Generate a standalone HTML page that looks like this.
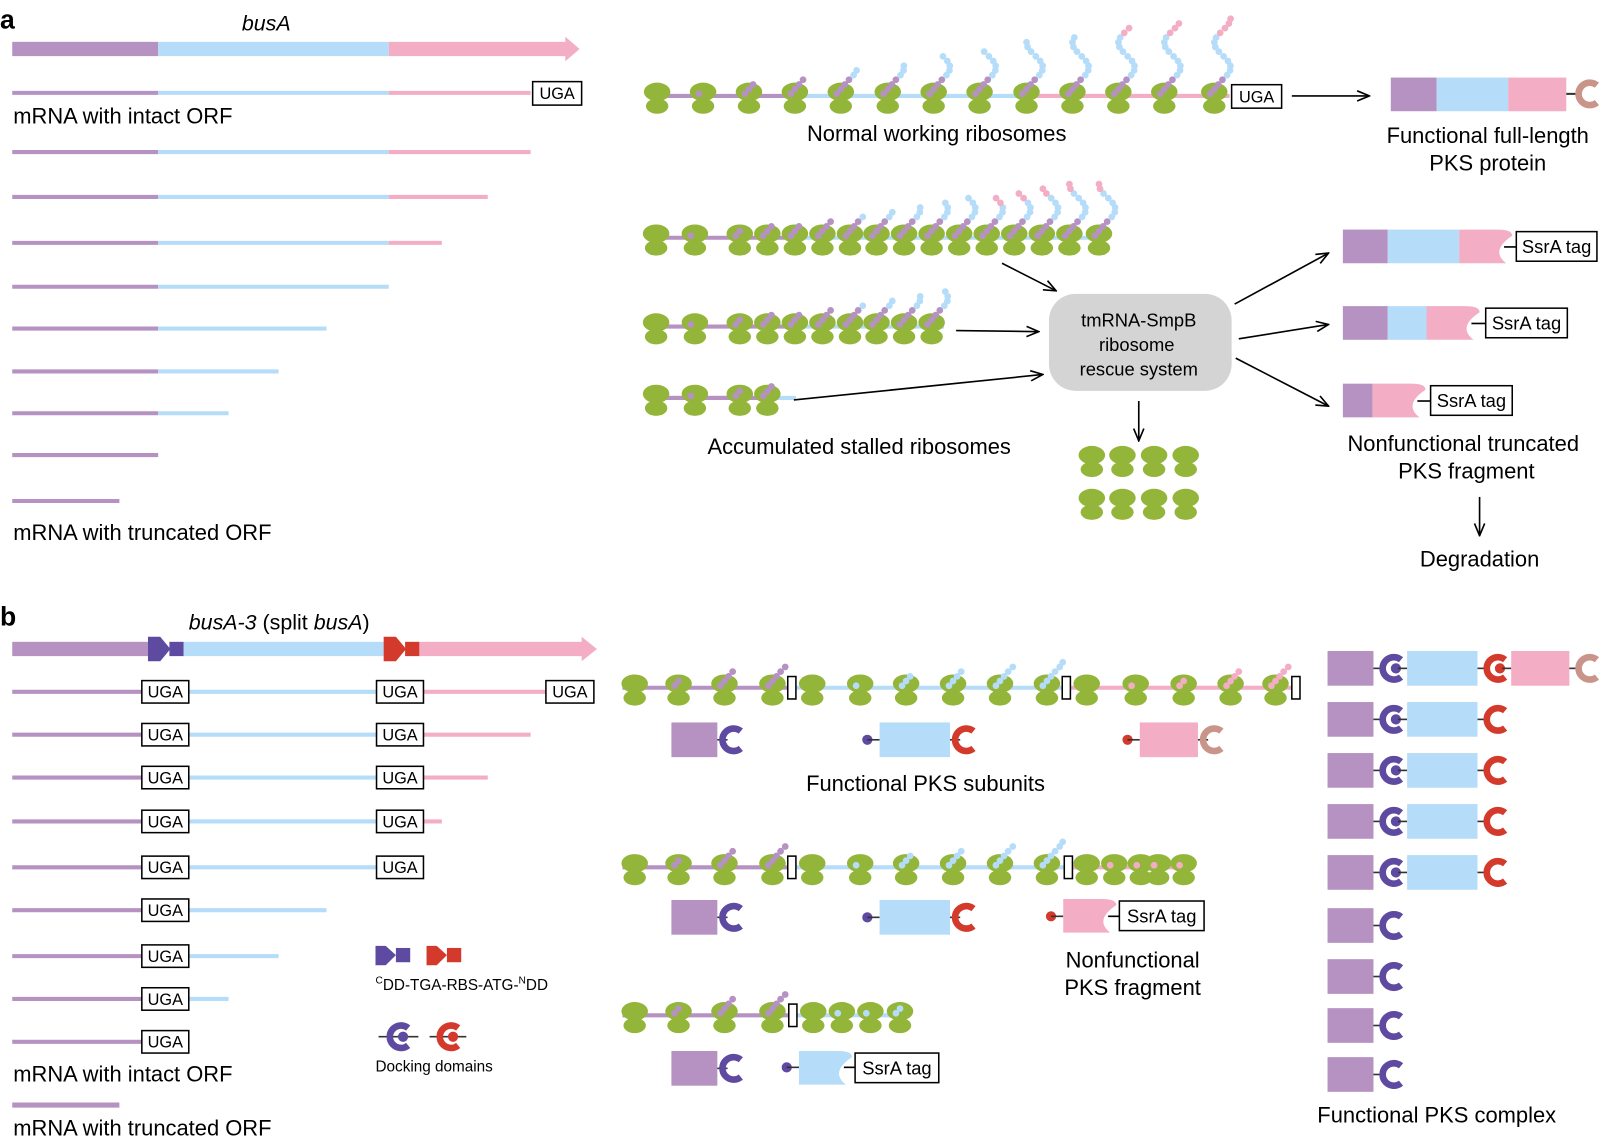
<!DOCTYPE html>
<html><head><meta charset="utf-8"><style>
html,body{margin:0;padding:0;background:#fff}
svg{display:block}
text{font-family:"Liberation Sans",Arial,sans-serif;fill:#000}
</style></head><body>
<svg id="s" width="1600" height="1144" viewBox="0 0 1600 1144" xmlns="http://www.w3.org/2000/svg">
<defs><marker id="ar" markerWidth="14" markerHeight="12" refX="13" refY="6" orient="auto" markerUnits="userSpaceOnUse"><path d="M1,1 L13,6 L1,11" fill="none" stroke="#000" stroke-width="1.6"/></marker></defs>
<g transform="scale(1.0204)">
<g id="g"></g>
<text x="0" y="28" font-size="26" font-weight="bold">a</text>
<text x="237" y="30" font-size="21" font-style="italic">busA</text>
<text x="13" y="121" font-size="21.5">mRNA with intact ORF</text>
<text x="13" y="529" font-size="21.5">mRNA with truncated ORF</text>
<text x="918" y="138" font-size="21.5" text-anchor="middle">Normal working ribosomes</text>
<text x="1458" y="140" font-size="21.5" text-anchor="middle">Functional full-length</text>
<text x="1458" y="167" font-size="21.5" text-anchor="middle">PKS protein</text>
<text x="842" y="445" font-size="21.5" text-anchor="middle">Accumulated stalled ribosomes</text>
<text x="1116" y="320" font-size="18" text-anchor="middle">tmRNA-SmpB</text>
<text x="1114" y="344" font-size="18" text-anchor="middle">ribosome</text>
<text x="1116" y="368" font-size="18" text-anchor="middle">rescue system</text>
<text x="1434" y="442" font-size="21.5" text-anchor="middle">Nonfunctional truncated</text>
<text x="1437" y="469" font-size="21.5" text-anchor="middle">PKS fragment</text>
<text x="1450" y="555" font-size="21.5" text-anchor="middle">Degradation</text>
<text x="0" y="613" font-size="26" font-weight="bold">b</text>
<text x="185" y="617" font-size="21"><tspan font-style="italic">busA-3</tspan> (split <tspan font-style="italic">busA</tspan>)</text>
<text x="13" y="1060" font-size="21.5">mRNA with intact ORF</text>
<text x="13" y="1113" font-size="21.5">mRNA with truncated ORF</text>
<text x="368" y="970" font-size="15"><tspan font-size="10" dy="-6">C</tspan><tspan dy="6">DD-TGA-RBS-ATG-</tspan><tspan font-size="10" dy="-6">N</tspan><tspan dy="6">DD</tspan></text>
<text x="368" y="1050" font-size="15">Docking domains</text>
<text x="907" y="775" font-size="21.5" text-anchor="middle">Functional PKS subunits</text>
<text x="1110" y="948" font-size="21.5" text-anchor="middle">Nonfunctional</text>
<text x="1110" y="975" font-size="21.5" text-anchor="middle">PKS fragment</text>
<text x="1408" y="1100" font-size="21.5" text-anchor="middle">Functional PKS complex</text>
</g>
</svg>
<script>
var P='#b592c2',B='#b5dcf8',K='#f3adc4',G='#93b53a',DP='#5e4aa0',R='#d43a2c',BR='#c9958a';
var g=document.getElementById('g'),h='';
function rect(x,y,w,hh,f,st){h+='<rect x="'+x+'" y="'+y+'" width="'+w+'" height="'+hh+'" fill="'+f+'"'+(st?' stroke="#000" stroke-width="1.5"':'')+'/>';}
function line(x1,y1,x2,y2,c,w,m){h+='<line x1="'+x1+'" y1="'+y1+'" x2="'+x2+'" y2="'+y2+'" stroke="'+c+'" stroke-width="'+w+'"'+(m?' marker-end="url(#ar)"':'')+'/>';}
function circ(x,y,r,f){h+='<circle cx="'+x+'" cy="'+y+'" r="'+r+'" fill="'+f+'"/>';}
function box(x,y,w,hh,txt,fs){rect(x,y,w,hh,'#fff',1);h+='<text x="'+(x+w/2)+'" y="'+(y+hh/2+fs*0.36)+'" font-size="'+fs+'" text-anchor="middle">'+txt+'</text>';}
function ribo(x,y){h+='<ellipse cx="'+x+'" cy="'+(y-4)+'" rx="13" ry="9" fill="'+G+'"/><ellipse cx="'+x+'" cy="'+(y+10)+'" rx="11" ry="7.5" fill="'+G+'"/>';}
function chain(x,y,cols){for(var i=0;i<cols.length;i++){var dx=i<3?-4+i*4:(8*Math.sin((i-3)*0.6)+8),dy=-2-i*4.6;circ(x+dx,y+dy,3.3,cols[i]);}}
function seq(n,np,nb,nk){var a=[];for(var i=0;i<n;i++)a.push(i<np?P:(i<np+nb?B:K));return a;}
function mrna(segs,y){segs.forEach(function(s){line(s[0],y,s[1],y,s[2],4);});}
function arrowbar(y,segs,tip){segs.forEach(function(s){rect(s[0],y-7,s[1]-s[0],14,s[2]);});h+='<polygon points="'+(tip-14)+','+(y-12)+' '+tip+','+y+' '+(tip-14)+','+(y+12)+'" fill="'+K+'"/>';}
function cshape(x,y,c,dot){h+='<path d="M'+(x+7)+','+(y-8.5)+' A11,11 0 1 0 '+(x+7)+','+(y+8.5)+'" fill="none" stroke="'+c+'" stroke-width="6.5"/>';if(dot)circ(x+2,y,5,c);}
function notch(x0,xe,y0,y1,f){var m=(y0+y1)/2;h+='<path d="M'+x0+','+y0+' L'+(xe-14)+','+y0+' Q'+xe+','+y0+' '+xe+','+(y0+6)+' Q'+(xe-22)+','+(m+4)+' '+(xe-6)+','+y1+' L'+x0+','+y1+' Z" fill="'+f+'"/>';}
arrowbar(48,[[12,155,P],[155,381,B],[381,556,K]],568);
var ys=[91,149,193,238,281,322,364,405,446,491],ends=[520,520,478,433,381,320,273,224,155,117];
ys.forEach(function(y,i){var e=ends[i];var s=[[12,Math.min(e,155),P]];if(e>155)s.push([155,Math.min(e,381),B]);if(e>381)s.push([381,e,K]);mrna(s,y);});
mrna([[640,780,P],[780,1010,B],[1010,1205,K]],94);
var xs=[644,689,734,779,824,870,915,960,1006,1051,1096,1141,1190];
xs.forEach(function(x,j){ribo(x,94);});
xs.forEach(function(x,j){var n=Math.min(Math.round(j*1.45),17);var np=Math.min(n,4),nb=Math.max(0,Math.min(n-4,j<9?20:10)),nk=0;if(j>=9){nb=Math.min(n-4,9);nk=n-4-nb;}chain(x,94,seq(n,np,nb,nk));});
line(1266,94,1342,94,'#000',1.6,1);
rect(1363,76,45,33,P);rect(1408,76,70,33,B);rect(1478,76,57,33,K);line(1535,92,1548,92,'#333',2);cshape(1558,92,BR,0);
function stalled(y,xe,xs2,maxn,pk){mrna([[640,Math.min(xe,780),P],[780,xe,B]],y);if(xe<780)mrna([[640,xe,P]],y);xs2.forEach(function(x){ribo(x,y);});xs2.forEach(function(x,j){var n=Math.min(Math.max(0,Math.round(j*0.85)),maxn);var pn=Math.min(n,4),bn=Math.max(0,n-4),kn=0;if(pk&&j>=xs2.length-5&&n>6){kn=2;bn=n-6;}chain(x,y,seq(n,pn,bn,kn));});}
var s1=[643,681,725,752,779,806,833,859,886,913,940,967,994,1021,1048,1077];
stalled(233,1085,s1,12,1);
stalled(320,925,[643,681,725,752,779,806,833,859,886,913],8,0);
stalled(390,760,[643,681,725,752],3,0);
h+='<rect x="1028" y="288" width="179" height="95" rx="26" fill="#d4d4d4"/>';
line(982,258,1035,285,'#000',1.6,1);line(937,324,1018,325,'#000',1.6,1);line(778,392,1022,367,'#000',1.6,1);
line(1116,393,1116,432,'#000',1.6,1);
[1070,1100,1131,1162].forEach(function(x){ribo(x,450);ribo(x,492);});
line(1210,298,1302,248,'#000',1.6,1);line(1214,332,1302,318,'#000',1.6,1);line(1211,351,1302,398,'#000',1.6,1);
line(1450,487,1450,525,'#000',1.6,1);
function frag(y,segs,notchSeg,tagx,tagw){segs.forEach(function(s){rect(s[0],y,s[1]-s[0],33,s[2]);});notch(notchSeg[0],notchSeg[1],y,y+33,notchSeg[2]);line(notchSeg[1]-8,y+17,tagx,y+17,'#000',1.6);box(tagx,y+2,tagw,29,'SsrA tag',18);}
frag(225,[[1316,1360,P],[1360,1430,B]],[1430,1482,K],1486,79);
frag(300,[[1316,1360,P],[1360,1398,B]],[1398,1450,K],1456,80);
frag(376,[[1316,1345,P]],[1345,1397,K],1402,80);
box(522,80,48,23,'UGA',16);box(1207,83,49,23,'UGA',16);
rect(12,629,133,14,P);h+='<polygon points="145,624 157,624 167,636 157,648 145,648" fill="'+DP+'"/>';rect(166,629,14,14,DP);
rect(180,629,196,14,B);h+='<polygon points="376,624 388,624 398,636 388,648 376,648" fill="'+R+'"/>';rect(397,629,14,14,R);
rect(411,629,160,14,K);h+='<polygon points="570,624 585,636 570,648" fill="'+K+'"/>';
var by=[678,720,762,805,850,892,937,979,1021],be=[535,520,478,433,369,320,273,224,139];
by.forEach(function(y,i){var e=be[i];var s=[[12,Math.min(e,139),P]];if(e>185)s.push([185,Math.min(e,369),B]);if(e>415)s.push([415,e,K]);mrna(s,y);});
by.forEach(function(y,i){box(139,y-11,46,22,'UGA',16);if(i<5)box(369,y-11,46,22,'UGA',16);if(i==0)box(535,y-11,47,22,'UGA',16);});
line(12,1083,117,1083,P,5);
h+='<polygon points="368,927 378,927 388,936 378,946 368,946" fill="'+DP+'"/>';rect(388,929,14,14,DP);
h+='<polygon points="418,927 428,927 438,936 428,946 418,946" fill="'+R+'"/>';rect(438,929,14,14,R);
line(371,1016,410,1016,'#333',1.6);cshape(393,1016,DP,1);line(421,1016,457,1016,'#333',1.6);cshape(442,1016,R,1);
function stopb(x,y){rect(x-4,y-11,8,22,'#fff',1);}
function brow(y,segs,groups,stops){segs.forEach(function(s){mrna([s],y);});groups.forEach(function(gr){gr[0].forEach(function(x){ribo(x,y);});});groups.forEach(function(gr){gr[0].forEach(function(x,j){var n=gr[1][j];var a=[];for(var i=0;i<n;i++)a.push(gr[2]);chain(x,y,a);});});stops.forEach(function(x){stopb(x,y);});}
brow(674,[[610,776,P],[776,1045,B],[1045,1270,K]],[[[622,665,710,757],[0,2,4,5],P],[[796,843,888,934,980,1026],[0,1,3,4,5,6],B],[[1065,1113,1160,1206,1250],[0,1,2,4,5],K]],[776,1045,1270]);
brow(850,[[610,776,P],[776,1047,B],[1047,1170,K]],[[[622,665,710,757],[0,2,4,5],P],[[796,843,888,934,980,1026],[0,1,3,4,5,6],B],[[1065,1092,1118,1135,1160],[0,1,1,1,1],K]],[776,1047]);
brow(995,[[610,777,P],[777,890,B]],[[[622,665,710,757],[0,2,4,5],P],[[797,825,853,882],[0,1,1,2],B]],[777]);
function cap(x,y,c,dot){line(x-6,y,x+4,y,'#333',1.6);cshape(x+10,y,c,dot);}
rect(658,708,45,34,P);cap(709,725,DP,0);
circ(850,725,5,DP);line(850,725,862,725,'#333',1.6);rect(862,708,69,34,B);cap(937,725,R,0);
circ(1105,725,5,R);line(1105,725,1117,725,'#333',1.6);rect(1117,708,57,34,K);cap(1180,725,BR,0);
rect(658,882,45,34,P);cap(709,899,DP,0);
circ(850,899,5,DP);line(850,899,862,899,'#333',1.6);rect(862,882,69,34,B);cap(937,899,R,0);
circ(1030,898,5,R);line(1030,898,1042,898,'#333',1.6);notch(1042,1094,881,914,K);line(1086,898,1097,898,'#000',1.6);box(1097,883,83,29,'SsrA tag',18);
rect(658,1030,45,34,P);cap(709,1047,DP,0);
circ(771,1046,5,DP);line(771,1046,783,1046,'#333',1.6);notch(783,835,1030,1063,B);line(827,1046,838,1046,'#000',1.6);box(838,1032,82,29,'SsrA tag',18);
[655,705,755,805,855,907,957,1005,1053].forEach(function(y,i){rect(1301,y-17,45,34,P);line(1346,y,1356,y,'#333',1.6);cshape(1366,y,DP,i<5);if(i<5){line(1370,y,1379,y,'#333',1.6);rect(1379,y-17,69,34,B);line(1448,y,1458,y,'#333',1.6);cshape(1468,y,R,i==0);}if(i==0){line(1472,y,1481,y,'#333',1.6);rect(1481,y-17,57,34,K);line(1538,y,1548,y,'#333',1.6);cshape(1558,y,BR,0);}});
g.innerHTML=h;
</script>
</body></html>
